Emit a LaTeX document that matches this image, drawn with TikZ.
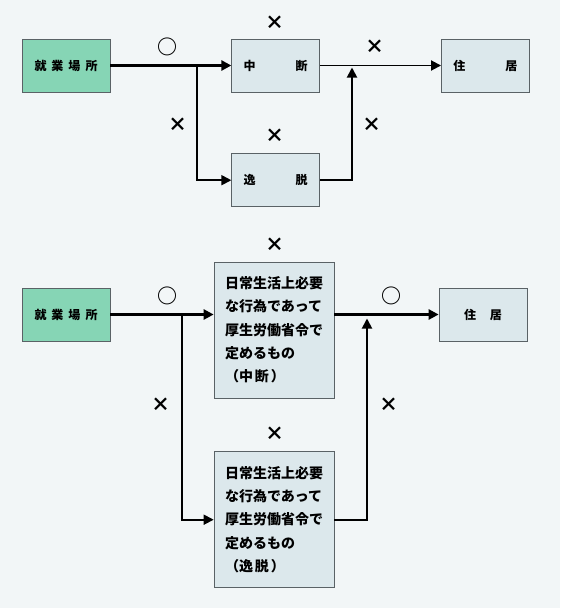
\documentclass[tikz,border=0pt]{standalone}
\usepackage{fontspec}
\setmainfont{Noto Sans CJK JP}
\usetikzlibrary{positioning, chains, arrows.meta}

\definecolor{paper}{HTML}{F2F6F7}
\definecolor{boxfill}{HTML}{DCE8EC}
\definecolor{workfill}{HTML}{86D5B5}
\definecolor{edge}{HTML}{5A6266}

\begin{document}
\begin{tikzpicture}[x=1pt, y=-1pt,
      box/.style={
        draw=edge,
        fill=boxfill,
        line width=0.7pt,
        minimum width=88pt,
        minimum height=53pt,
        inner sep=0pt,
        font=\fontsize{12}{14}\selectfont\bfseries
      },
      work/.style={box, fill=workfill},
      long/.style={box, minimum width=120pt, minimum height=136pt,
        text width=98pt, align=left,
        font=\fontsize{14}{23.3}\selectfont\bfseries},
      heavy/.style={line width=3.8pt},
      light/.style={line width=1.8pt},
      sign/.style={inner sep=0pt, font=\fontsize{19}{19}\selectfont\bfseries},
      ring/.style={inner sep=0pt, font=\fontsize{20}{20}\selectfont\bfseries},
      >={Triangle[length=10pt,width=10pt]}]

    \fill[paper] (0,0) rectangle (560,608);
    \useasboundingbox (0,0) rectangle (560,608);

    \begin{scope}[start chain=upper going right, node distance=121pt]
      \node[work,on chain=upper] (A) at (66,65.5) {就\kern5pt 業\kern5pt 場\kern5pt 所};
      \node[box,on chain=upper] (B) {中\hspace{40pt}断};
      \node[box,on chain=upper] (C) {住\hspace{40pt}居};
    \end{scope}
    \node[box,below=61pt of B] (D) {逸\hspace{40pt}脱};

    \coordinate (splitA) at (197,65.5);
    \coordinate (joinA) at (352,67.5);
    \draw[heavy,->] (A) -- (B);
    \draw[light,->] (B) -- (C);
    \draw[light,->] (splitA) |- (D);
    \draw[light,->] (D) -| (joinA);

    \node[ring] (oA) at (167,47) {○};
    \node[sign] (xB) at (275,23) {×};
    \node[sign] (xC) at (375,47) {×};
    \node[sign] (xS) at (177.5,125) {×};
    \node[sign] (xD) at (275,136) {×};
    \node[sign] (xJ) at (372,125) {×};

    \node[work] (E) at (66,314.5) {就\kern5pt 業\kern5pt 場\kern5pt 所};
    \node[long] (F) at (274,330) {日常生活上必要\\な行為であって\\厚生労働省令で\\定めるもの\\（中\kern2pt 断\kern2pt ）};
    \node[box] (G) at (483,314.5) {住\hspace{14pt}居};
    \node[long,below=53pt of F] (H) {日常生活上必要\\な行為であって\\厚生労働省令で\\定めるもの\\（逸\kern2pt 脱\kern2pt ）};

    \coordinate (splitE) at (182,314.5);
    \coordinate (joinE) at (367,318.5);
    \draw[heavy,->] (E) -- (E -| F.west);
    \draw[heavy,->] (F.east |- G) -- (G);
    \draw[light,->] (splitE) |- (H);
    \draw[light,->] (H) -| (joinE);

    \node[ring] (oE) at (167,296) {○};
    \node[sign] (xF) at (275,245) {×};
    \node[ring] (oG) at (391,296) {○};
    \node[sign] (xS2) at (161,405) {×};
    \node[sign] (xH) at (275,434) {×};
    \node[sign] (xJ2) at (389,405) {×};
  \end{tikzpicture}
\end{document}
